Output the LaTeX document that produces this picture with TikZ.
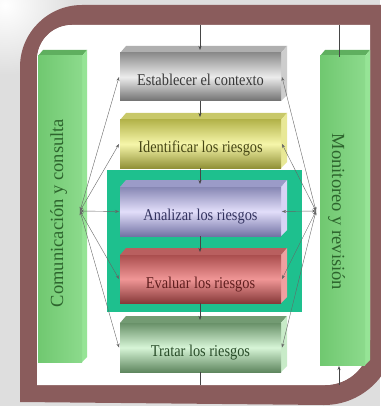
\documentclass[tikz,border=0pt]{standalone}
\usepackage{fontspec}
\setmainfont{Liberation Serif}
\newfontfamily\narrowserif[FakeStretch=0.87]{Liberation Serif}
\usetikzlibrary{arrows.meta}
\definecolor{bg}{RGB}{222,222,222}
\definecolor{framec}{RGB}{138,92,92}
\definecolor{teal}{RGB}{30,192,142}
\definecolor{barL}{RGB}{112,200,112}
\definecolor{barR}{RGB}{140,218,140}
\definecolor{barF}{RGB}{95,175,95}
\definecolor{barS}{RGB}{150,228,150}
\definecolor{barX}{RGB}{45,100,45}
\definecolor{lineC}{RGB}{70,70,70}
% gray
\definecolor{gT}{RGB}{140,140,140}\definecolor{gM}{RGB}{236,236,236}\definecolor{gB}{RGB}{112,112,112}
\definecolor{gF}{RGB}{175,175,175}\definecolor{gS}{RGB}{205,205,205}\definecolor{gX}{RGB}{55,55,55}
% yellow
\definecolor{yT}{RGB}{180,180,75}\definecolor{yM}{RGB}{246,246,170}\definecolor{yB}{RGB}{145,145,55}
\definecolor{yF}{RGB}{200,200,105}\definecolor{yS}{RGB}{232,232,150}\definecolor{yX}{RGB}{70,70,20}
% purple
\definecolor{pT}{RGB}{135,135,180}\definecolor{pM}{RGB}{226,222,250}\definecolor{pB}{RGB}{115,115,165}
\definecolor{pF}{RGB}{155,155,200}\definecolor{pS}{RGB}{215,212,245}\definecolor{pX}{RGB}{50,50,95}
% red
\definecolor{rT}{RGB}{170,78,78}\definecolor{rM}{RGB}{240,150,150}\definecolor{rB}{RGB}{135,58,58}
\definecolor{rF}{RGB}{185,95,95}\definecolor{rS}{RGB}{240,160,160}\definecolor{rX}{RGB}{95,30,30}
% green
\definecolor{nT}{RGB}{105,145,105}\definecolor{nM}{RGB}{215,245,215}\definecolor{nB}{RGB}{95,135,95}
\definecolor{nF}{RGB}{115,155,115}\definecolor{nS}{RGB}{200,235,200}\definecolor{nX}{RGB}{40,75,40}

\newcommand\riskbox[5]{%
  \fill[#4F] (120,#2+7) -- (126,#2) -- (287,#2) -- (281,#2+7) -- cycle;
  \fill[#4S] (281,#2+7) -- (287,#2) -- (287,#3-6) -- (281,#3) -- cycle;
  \node[face, top color=#4T, bottom color=#4B, middle color=#4M, minimum height={#3-#2-7}] (#1) at (200.5,{(#2+7+#3)/2}) {};
  \node[boxtext, text=#4X, anchor=base] (#1-t) at (200.5,{(#2+7+#3)/2+9}) {#5};
  \coordinate (#1-in) at (200,#2+4);
  \coordinate (#1-out) at (200,#3);
  \coordinate (#1-w) at (119,{(#2+7+#3)/2});
  \coordinate (#1-e) at (282,{(#2+7+#3)/2});
}

\begin{document}
\begin{tikzpicture}[x=1pt,y=-1pt,
  face/.style={draw=none, inner sep=0pt, outer sep=0pt, minimum width=161pt},
  boxtext/.style={inner sep=0pt, font=\narrowserif\fontsize{16.5}{19}\selectfont},
  bartext/.style={inner sep=0pt, text=barX, font=\fontsize{18.5}{22}\selectfont},
  conn/.style={draw=lineC, line width=0.5pt},
  tip/.style={conn, -{Stealth[length=4pt,width=3pt]}},
  fan/.style={draw=gray!80!black, line width=0.4pt, {Stealth[length=4pt,width=3pt]}-{Stealth[length=4pt,width=3pt]}}]
\useasboundingbox (0,0) rectangle (380,406);
% background
\fill[bg] (0,0) rectangle (380,406);
\shade[inner color=white, outer color=bg] (5,5) circle (70);
% frame
\fill[framec, even odd rule]
  (20,402) -- (20,67) arc[start angle=180, end angle=270, radius=62] -- (395,5) -- (395,334) arc[start angle=0, end angle=90, radius=71] -- cycle
  (37,385) -- (37,60) arc[start angle=180, end angle=270, radius=35] -- (370,25) -- (370,340) arc[start angle=0, end angle=90, radius=45] -- cycle;
\fill[white] (37,385) -- (37,60) arc[start angle=180, end angle=270, radius=35] -- (370,25) -- (370,340) arc[start angle=0, end angle=90, radius=45] -- cycle;
% left bar
\fill[barF] (38,56) -- (43,50) -- (87,50) -- (82,56) -- cycle;
\fill[barS] (82,56) -- (87,50) -- (87,357) -- (82,362) -- cycle;
\node[draw=none, inner sep=0pt, left color=barL, right color=barR, minimum width=44pt, minimum height=306pt] (lbar) at (60,209) {};
\node[bartext, rotate=90, anchor=base] (ltext) at (63,213) {Comunicación y consulta};
% right bar
\fill[barF] (320,56) -- (325,50) -- (370,50) -- (365,56) -- cycle;
\fill[barS] (365,56) -- (370,50) -- (370,360) -- (365,365) -- cycle;
\node[draw=none, inner sep=0pt, left color=barL, right color=barR, minimum width=45pt, minimum height=309pt] (rbar) at (342.5,210.5) {};
\node[bartext, rotate=-90, anchor=base] (rtext) at (332,212) {Monitoreo y revisión};
% teal stage
\node[fill=teal, draw=none, inner sep=0pt, minimum width=195pt, minimum height=142pt] (stage) at (204.5,241) {};
% boxes
\riskbox{est}{46}{101}{g}{Establecer el contexto}
\riskbox{ide}{113}{168}{y}{Identificar los riesgos}
\riskbox{ana}{180}{236}{p}{Analizar los riesgos}
\riskbox{eva}{248}{303}{r}{Evaluar los riesgos}
\riskbox{tra}{316}{372}{n}{Tratar los riesgos}
% coordinates
\coordinate (ctop) at (200,25);
\coordinate (cbot) at (200,385);
\coordinate (rtop) at (339,25);
\coordinate (rbar-in) at (339,57);
\coordinate (rbot) at (339,385);
\coordinate (rbar-out) at (339,366);
\coordinate (lfan) at (80,211);
\coordinate (rfan) at (316,211);
% main flow
\draw[tip] (ctop) -- (est-in);
\draw[tip] (est-out) -- (ide-in);
\draw[tip] (ide-out) -- (ana-in);
\draw[tip] (ana-out) -- (eva-in);
\draw[tip] (eva-out) -- (tra-in);
\draw[conn] (tra-out) -- (cbot);
\draw[conn] (rtop) -- (rbar-in);
\draw[tip] (rbot) -- (rbar-out);
% fans
\foreach \b in {est,ide,ana,eva,tra}{
  \draw[fan] (lfan) -- (\b-w);
  \draw[fan] (rfan) -- (\b-e);
}
\end{tikzpicture}
\end{document}
